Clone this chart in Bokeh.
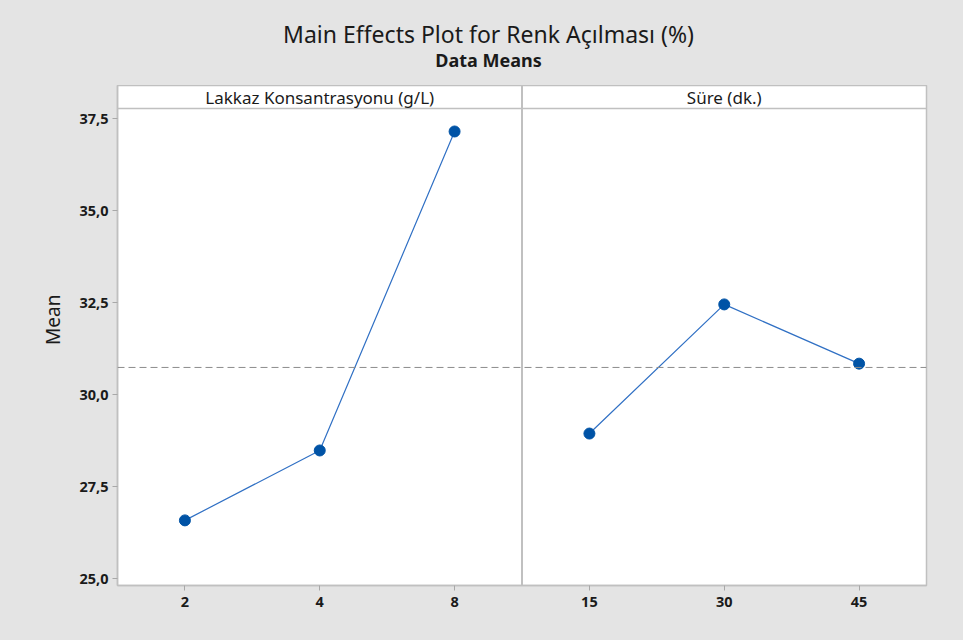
import math
from bokeh.plotting import figure
from bokeh.layouts import column, row
from bokeh.models import Span, FixedTicker, Range1d
from bokeh.core.properties import value
from bokeh.embed import file_html
from bokeh.resources import INLINE

# ---- data ----
factor1_name = "Lakkaz Konsantrasyonu (g/L)"
factor1_levels = ["2", "4", "8"]
factor1_means = [26.58, 28.48, 37.15]

factor2_name = "Süre (dk.)"
factor2_levels = ["15", "30", "45"]
factor2_means = [28.94, 32.45, 30.84]

y_ticks = [25.0, 27.5, 30.0, 32.5, 35.0, 37.5]
y_tick_labels = ["25,0", "27,5", "30,0", "32,5", "35,0", "37,5"]

title_text = "Main Effects Plot for Renk Açılması (%)"
subtitle_text = "Data Means"
y_label = "Mean"

grand_mean = sum(factor1_means) / len(factor1_means)

# ---- style ----
FONT = "Noto Sans"
BG = "#e4e4e4"
BORDER = "#c0c0c0"
TXT = "#1a1a1a"

W, H = 963, 640
TOP_H = 85
LEFT_W = 70


def blank(width, height):
    f = figure(width=width, height=height, output_backend="svg", toolbar_location=None,
               x_axis_type=None, y_axis_type=None,
               x_range=Range1d(0, width), y_range=Range1d(height, 0),
               styles={"background-color": BG})
    f.min_border = 0
    f.background_fill_color = BG
    f.border_fill_color = BG
    f.outline_line_color = None
    f.xgrid.visible = False
    f.ygrid.visible = False
    return f


# title band
top = blank(W, TOP_H)
top.text(x=[488], y=[33], text=[title_text], text_align="center",
         text_baseline="middle", text_font=value(FONT), text_font_size="23px",
         text_color=TXT)
top.text(x=[488], y=[59], text=[subtitle_text], text_align="center",
         text_baseline="middle", text_font=value(FONT), text_font_size="18px",
         text_font_style="bold", text_color=TXT)

# left band with y label
left = blank(LEFT_W, H - TOP_H)
left.text(x=[52], y=[345 - TOP_H], text=[y_label], text_align="center",
          text_baseline="middle", angle=math.pi / 2, text_font=value(FONT),
          text_font_size="19px", text_color=TXT)

# main panel
x1 = [1, 2, 3]
x2 = [4, 5, 6]
y_low, y_high = 24.81, 38.40
strip_bottom = 37.772

p = figure(width=W - LEFT_W, height=H - TOP_H, output_backend="svg", toolbar_location=None,
           x_range=Range1d(0.5, 6.5), y_range=Range1d(y_low, y_high),
           styles={"background-color": BG})
p.min_border = 0
p.min_border_left = 117 - LEFT_W
p.min_border_right = W - 926
p.min_border_top = 0
p.min_border_bottom = H - 585
p.border_fill_color = BG
p.background_fill_color = "white"
p.outline_line_color = BORDER
p.outline_line_width = 1.5
p.xgrid.visible = False
p.ygrid.visible = False

p.xaxis.ticker = FixedTicker(ticks=x1 + x2)
p.xaxis.major_label_overrides = {x: lab for x, lab in zip(x1 + x2, factor1_levels + factor2_levels)}
p.yaxis.ticker = FixedTicker(ticks=y_ticks)
p.yaxis.major_label_overrides = {t: lab for t, lab in zip(y_ticks, y_tick_labels)}
for ax in (p.xaxis, p.yaxis):
    ax.axis_line_color = BORDER
    ax.axis_line_width = 1.5
    ax.major_tick_line_color = "#a8a8a8"
    ax.major_tick_out = 5
    ax.major_tick_in = 0
    ax.minor_tick_line_color = None
    ax.major_label_text_font = FONT
    ax.major_label_text_font_size = "14.5px"
    ax.major_label_text_color = TXT
    ax.major_label_text_font_style = "bold"
p.xaxis.major_label_standoff = 6
p.yaxis.major_label_standoff = 4

# strip separator and panel divider
p.segment(x0=[0.5], y0=[strip_bottom], x1=[6.5], y1=[strip_bottom],
          line_color=BORDER, line_width=1.5)
p.segment(x0=[3.5], y0=[y_low], x1=[3.5], y1=[y_high],
          line_color=BORDER, line_width=2)

# grand mean reference line
p.add_layout(Span(location=grand_mean, dimension="width", line_color="#8c8c8c",
                  line_width=1, line_dash="7 4"))

# main effect lines
LINE = "#3070c4"
MARK = "#0053a6"
for xs, ys in ((x1, factor1_means), (x2, factor2_means)):
    p.line(xs, ys, line_color=LINE, line_width=1.2)
    p.scatter(xs, ys, size=11, fill_color=MARK, line_color=MARK)

# strip labels
p.text(x=[2, 5], y=[(strip_bottom + y_high) / 2] * 2, text=[factor1_name, factor2_name],
       text_align="center", text_baseline="middle", text_font=value(FONT),
       text_font_size="17px", text_color=TXT)

layout = column(top, row(left, p, spacing=0, styles={"background-color": BG}),
                spacing=0, styles={"background-color": BG})
open("out.html", "w").write(file_html(layout, INLINE))
